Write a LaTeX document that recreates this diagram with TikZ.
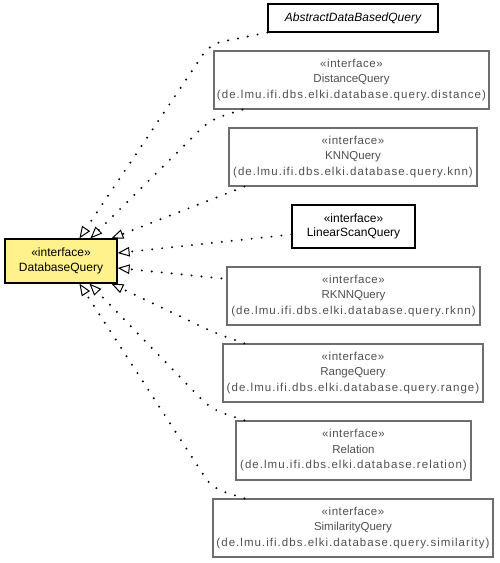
\documentclass[tikz,border=0pt]{standalone}
\usepackage{fontspec}
\setmainfont{Liberation Sans}
\usetikzlibrary{arrows.meta,calc}
\definecolor{umlyellow}{RGB}{255,242,140}
\definecolor{boxgray}{RGB}{110,110,110}
\definecolor{textgray}{RGB}{80,80,80}
\newcommand{\pkgline}[1]{{\addfontfeature{LetterSpace=9}#1}}
\newcommand{\stereo}{{\addfontfeature{LetterSpace=5}«interface»}}
\begin{document}
\begin{tikzpicture}[x=1pt,y=-1pt,
  graybox/.style={draw=boxgray,line width=1.2pt,fill=white,text=textgray,align=center,inner sep=0pt,
     font=\fontsize{11.5}{15.5}\selectfont},
  blackbox/.style={draw=black,line width=1.2pt,fill=white,text=black,align=center,inner sep=0pt,
     font=\fontsize{12}{14.5}\selectfont},
  realize/.style={line width=2.2pt,line cap=round,dash pattern=on 0pt off 10pt,rounded corners=12pt,
     -{Triangle[open,length=12pt,width=9.5pt,line width=1pt]}}]
\useasboundingbox (0,0) rectangle (499,563);

\node[blackbox,minimum width=170pt,minimum height=28pt] (abs) at (353,18) {\itshape AbstractDataBasedQuery};
\node[graybox,minimum width=275pt,minimum height=58pt] (dist) at (351.5,80) {\stereo\\DistanceQuery\\\pkgline{(de.lmu.ifi.dbs.elki.database.query.distance)}};
\node[graybox,minimum width=248pt,minimum height=58pt] (knn) at (353,157) {\stereo\\KNNQuery\\\pkgline{(de.lmu.ifi.dbs.elki.database.query.knn)}};
\node[blackbox,minimum width=123pt,minimum height=43pt] (lin) at (353.5,226.5) {«interface»\\LinearScanQuery};
\node[blackbox,fill=umlyellow,minimum width=112pt,minimum height=44pt] (dbq) at (61,261) {«interface»\\DatabaseQuery};
\node[graybox,minimum width=253pt,minimum height=58pt] (rknn) at (353.5,296) {\stereo\\RKNNQuery\\\pkgline{(de.lmu.ifi.dbs.elki.database.query.rknn)}};
\node[graybox,minimum width=260pt,minimum height=58pt] (range) at (353,373) {\stereo\\RangeQuery\\\pkgline{(de.lmu.ifi.dbs.elki.database.query.range)}};
\node[graybox,minimum width=235pt,minimum height=59pt] (rel) at (353.5,450.5) {\stereo\\Relation\\\pkgline{(de.lmu.ifi.dbs.elki.database.relation)}};
\node[graybox,minimum width=280pt,minimum height=58pt] (sim) at (353,528) {\stereo\\SimilarityQuery\\\pkgline{(de.lmu.ifi.dbs.elki.database.query.similarity)}};

\draw[realize] (abs.south west) -- (210,44) -- ($(dbq.north west)+(75,0)$);
\draw[realize] ($(dist.south west)+(29,0)$) -- (210,120) -- ($(dbq.north west)+(86,0)$);
\draw[realize] ($(knn.south west)+(16,0)$) -- ($(dbq.north west)+(107,0)$);
\draw[realize] ($(lin.west)+(0,8)$) -- ($(dbq.east)+(0,-8)$);
\draw[realize] ($(rknn.north west)+(-5,12)$) -- ($(dbq.east)+(0,7)$);
\draw[realize] ($(range.north west)+(22,0)$) -- (215,333) -- ($(dbq.south west)+(107,0)$);
\draw[realize] ($(rel.north west)+(9,0)$) -- (211,409) -- ($(dbq.south west)+(85,0)$);
\draw[realize] ($(sim.north west)+(32,0)$) -- (212,488) -- ($(dbq.south west)+(75,0)$);
\end{tikzpicture}
\end{document}
